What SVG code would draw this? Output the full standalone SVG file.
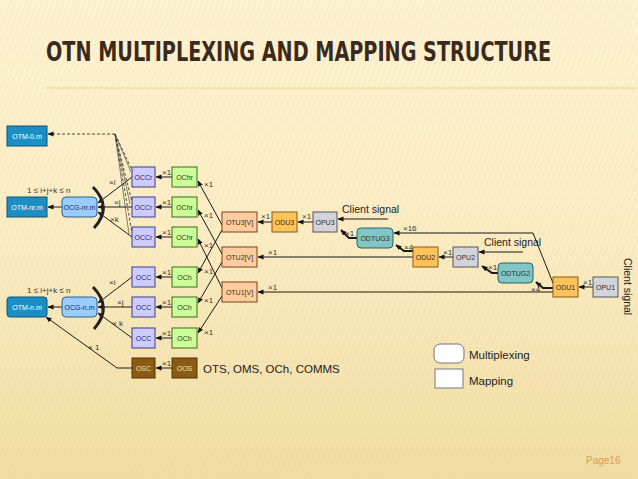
<svg xmlns="http://www.w3.org/2000/svg" width="638" height="479" viewBox="0 0 638 479">
<defs>
<linearGradient id="bg" x1="0" y1="0" x2="0" y2="1">
<stop offset="0" stop-color="#fdf3d3"/>
<stop offset="0.5" stop-color="#fbecc3"/>
<stop offset="1" stop-color="#f1dca2"/>
</linearGradient>
<pattern id="stripes" width="5" height="5" patternUnits="userSpaceOnUse" patternTransform="rotate(20)">
<line x1="0" y1="0" x2="0" y2="5" stroke="#e6cf8f" stroke-width="1.2" opacity="0.35"/>
</pattern>
<marker id="arr" markerUnits="userSpaceOnUse" markerWidth="6" markerHeight="6" refX="5.5" refY="3" orient="auto">
<path d="M0,0.5 L6,3 L0,5.5 z" fill="#111"/>
</marker>
<style>
.t{font-family:"Liberation Sans",Arial,sans-serif;font-size:7px;text-anchor:middle}
.otm{fill:#1b8fc4;stroke:#0c5478}
.otmt{fill:#ffffff}
.ocg{fill:#99ccff;stroke:#2e5f8f}
.occ{fill:#ccccff;stroke:#3a3a8c}
.occt{fill:#2a2a66}
.och{fill:#ccff99;stroke:#3d6b1a}
.ocht{fill:#264010}
.osc{fill:#8c5a14;stroke:#553300}
.osct{fill:#f7e2a0}
.otu{fill:#ffcc9e;stroke:#7a4020}
.odu{fill:#fdc258;stroke:#8a5a10}
.opu{fill:#d3d3da;stroke:#555560}
.odt{fill:#80c6c6;stroke:#2a6060}
.dk{fill:#3a2d1e}
.ln{fill:none;stroke:#1a1a1a;stroke-width:1;marker-end:url(#arr)}
.thk{fill:none;stroke:#1a1a1a;stroke-width:2;marker-end:url(#arr)}
.dsh{fill:none;stroke:#222;stroke-width:0.8;stroke-dasharray:3,2}
.thin{fill:none;stroke:#333;stroke-width:0.6}
.lb{font-family:"Liberation Sans",Arial,sans-serif;font-size:8px;fill:#333}
.big{font-family:"Liberation Sans",Arial,sans-serif;fill:#222}
</style>
</defs>
<rect x="0" y="0" width="638" height="479" fill="url(#bg)"/>
<rect x="0" y="0" width="638" height="479" fill="url(#stripes)"/>
<text transform="translate(46,61) scale(0.82,1)" x="0" y="0" font-family="'DejaVu Sans Condensed','Liberation Sans',sans-serif" font-weight="bold" font-size="27" fill="#3b2a1c" textLength="616" lengthAdjust="spacingAndGlyphs">OTN MULTIPLEXING AND MAPPING STRUCTURE</text>
<line x1="46" y1="88" x2="638" y2="88" stroke="#f0c878" stroke-width="0.8"/>

<g id="connectors">
<path class="dsh" d="M115,134 H48" marker-end="url(#arr)"/>
<path class="dsh" d="M115,134 L132,170"/>
<path class="dsh" d="M115,134 L132,202"/>
<path class="dsh" d="M115,134 L132,233"/>
<path class="thin" d="M115,134 L130,204"/>
<path class="thin" d="M115,134 L129,234"/>
<path class="thin" d="M115,134 L131,172"/>
<path class="ln" d="M62,207 H48"/>
<path class="ln" d="M132,177 L98,203"/>
<path class="ln" d="M132,207 H98"/>
<path class="ln" d="M132,237 L98,212"/>
<path class="ln" d="M172,177 H156"/>
<path class="ln" d="M172,207 H156"/>
<path class="ln" d="M172,237 H156"/>
<path class="ln" d="M62,307 H48"/>
<path class="ln" d="M132,277 L98,303"/>
<path class="ln" d="M132,307 H98"/>
<path class="ln" d="M132,338 L98,313"/>
<path class="ln" d="M172,277 H156"/>
<path class="ln" d="M172,307 H156"/>
<path class="ln" d="M172,338 H156"/>
<path class="ln" d="M172,368 H156"/>
<path class="ln" d="M132,368 H117 L46,317"/>
<path class="ln" d="M222,225 L198,181"/>
<path class="ln" d="M222,230 L198,273"/>
<path class="ln" d="M222,254 L198,210"/>
<path class="ln" d="M222,262 L198,303"/>
<path class="ln" d="M222,288 L198,239"/>
<path class="ln" d="M222,296 L198,333"/>
<path class="ln" d="M272,222 H258"/>
<path class="ln" d="M313,222 H298"/>
<path class="ln" d="M388,219 H338"/>
<path class="thk" d="M357,238 H349 L341,230"/>
<path class="ln" d="M553,283 L533,233 H394"/>
<path class="thk" d="M413,251 H404 L396,245"/>
<path class="ln" d="M413,257 H258"/>
<path class="ln" d="M453,257 H439"/>
<path class="ln" d="M523,252 H479"/>
<path class="thk" d="M498,273 H492 L482,266"/>
<path class="thk" d="M553,288 H543 L536,282"/>
<path class="ln" d="M553,292 H258"/>
<path class="ln" d="M593,287 H579"/>
<path d="M93,187 Q113,207.5 94,228" fill="none" stroke="#222" stroke-width="3"/>
<path d="M93,287 Q113,307.5 94,329" fill="none" stroke="#222" stroke-width="3"/>
</g>

<g id="labels">
<text class="lb" x="27" y="193" font-size="9.5">1 ≤ i+j+k ≤ n</text>
<text class="lb" x="27" y="293" font-size="9.5">1 ≤ i+j+k ≤ n</text>
<text class="lb" x="109" y="185" font-size="7">×i</text>
<text class="lb" x="114" y="205" font-size="7">×j</text>
<text class="lb" x="110" y="222" font-size="7">×k</text>
<text class="lb" x="109" y="285">×i</text>
<text class="lb" x="117" y="305">×j</text>
<text class="lb" x="112" y="326">× k</text>
<text class="lb" x="88" y="350">× 1</text>
<text class="lb" x="162" y="175">×1</text>
<text class="lb" x="162" y="205">×1</text>
<text class="lb" x="162" y="235">×1</text>
<text class="lb" x="162" y="275">×1</text>
<text class="lb" x="162" y="305">×1</text>
<text class="lb" x="162" y="336">×1</text>
<text class="lb" x="162" y="366">×1</text>
<text class="lb" x="204" y="187">×1</text>
<text class="lb" x="204" y="218">×1</text>
<text class="lb" x="204" y="248">×1</text>
<text class="lb" x="204" y="274">×1</text>
<text class="lb" x="204" y="303">×1</text>
<text class="lb" x="204" y="335">×1</text>
<text class="lb" x="261" y="219">×1</text>
<text class="lb" x="302" y="219">×1</text>
<text class="lb" x="268" y="255">×1</text>
<text class="lb" x="268" y="290">×1</text>
<text class="lb" x="345" y="236">×1</text>
<text class="lb" x="403" y="231">×16</text>
<text class="lb" x="404" y="250">×4</text>
<text class="lb" x="443" y="255">×1</text>
<text class="lb" x="488" y="270">×1</text>
<text class="lb" x="531" y="292">×4</text>
<text class="lb" x="583" y="285">×1</text>
<text class="big" x="342" y="213" font-size="10.5">Client signal</text>
<text class="big" x="484" y="246" font-size="10.5">Client signal</text>
<text class="big" x="624" y="258" font-size="10.5" transform="rotate(90 624 258)">Client signal</text>
<text class="big" x="203" y="373" font-size="11.5">OTS, OMS, OCh, COMMS</text>
</g>

<g id="OTM-0m"><rect class="otm" x="7" y="126" width="40" height="20"/><text class="t otmt" x="27" y="138.5">OTM-0.m</text></g>
<g id="OTM-nrm"><rect class="otm" x="7" y="197" width="40" height="20"/><text class="t otmt" x="27" y="209.5">OTM-nr.m</text></g>
<g id="OCG-nrm"><rect class="ocg" x="62" y="197" width="35" height="20" rx="4"/><text class="t" fill="#1a2a50" x="79.5" y="209.5">OCG-nr.m</text></g>
<g id="OTM-nm"><rect class="otm" x="7" y="297" width="40" height="20" rx="3"/><text class="t otmt" x="27" y="309.5">OTM-n.m</text></g>
<g id="OCG-nm"><rect class="ocg" x="62" y="297" width="35" height="20" rx="4"/><text class="t" fill="#1a2a50" x="79.5" y="309.5">OCG-n.m</text></g>

<g id="OCCr1"><rect class="occ" x="132" y="167" width="23" height="20"/><text class="t occt" x="143.5" y="179.5">OCCr</text></g>
<g id="OCCr2"><rect class="occ" x="132" y="197" width="23" height="20"/><text class="t occt" x="143.5" y="209.5">OCCr</text></g>
<g id="OCCr3"><rect class="occ" x="132" y="227" width="23" height="20"/><text class="t occt" x="143.5" y="239.5">OCCr</text></g>
<g id="OChr1"><rect class="och" x="172" y="167" width="25" height="20"/><text class="t ocht" x="184.5" y="179.5">OChr</text></g>
<g id="OChr2"><rect class="och" x="172" y="197" width="25" height="20"/><text class="t ocht" x="184.5" y="209.5">OChr</text></g>
<g id="OChr3"><rect class="och" x="172" y="227" width="25" height="20"/><text class="t ocht" x="184.5" y="239.5">OChr</text></g>
<g id="OCC1"><rect class="occ" x="132" y="267" width="23" height="20"/><text class="t occt" x="143.5" y="279.5">OCC</text></g>
<g id="OCC2"><rect class="occ" x="132" y="297" width="23" height="20"/><text class="t occt" x="143.5" y="309.5">OCC</text></g>
<g id="OCC3"><rect class="occ" x="132" y="328" width="23" height="20"/><text class="t occt" x="143.5" y="340.5">OCC</text></g>
<g id="OCh1"><rect class="och" x="172" y="267" width="25" height="20"/><text class="t ocht" x="184.5" y="279.5">OCh</text></g>
<g id="OCh2"><rect class="och" x="172" y="297" width="25" height="20"/><text class="t ocht" x="184.5" y="309.5">OCh</text></g>
<g id="OCh3"><rect class="och" x="172" y="328" width="25" height="20"/><text class="t ocht" x="184.5" y="340.5">OCh</text></g>
<g id="OSC"><rect class="osc" x="132" y="358" width="23" height="20"/><text class="t osct" x="143.5" y="370.5">OSC</text></g>
<g id="OOS"><rect class="osc" x="172" y="358" width="25" height="20"/><text class="t osct" x="184.5" y="370.5">OOS</text></g>

<g id="OTU3V"><rect class="otu" x="222" y="212" width="35" height="20"/><text class="t dk" x="239.5" y="224.5">OTU3[V]</text></g>
<g id="OTU2V"><rect class="otu" x="222" y="247" width="35" height="20"/><text class="t dk" x="239.5" y="259.5">OTU2[V]</text></g>
<g id="OTU1V"><rect class="otu" x="222" y="282" width="35" height="20"/><text class="t dk" x="239.5" y="294.5">OTU1[V]</text></g>
<g id="ODU3"><rect class="odu" x="272" y="212" width="25" height="20"/><text class="t dk" x="284.5" y="224.5">ODU3</text></g>
<g id="OPU3"><rect class="opu" x="313" y="212" width="24" height="20"/><text class="t dk" x="325" y="224.5">OPU3</text></g>
<g id="ODTUG3"><rect class="odt" x="357" y="228" width="36" height="20" rx="4"/><text class="t dk" x="375" y="240.5">ODTUG3</text></g>
<g id="ODU2"><rect class="odu" x="413" y="247" width="25" height="20"/><text class="t dk" x="425.5" y="259.5">ODU2</text></g>
<g id="OPU2"><rect class="opu" x="453" y="247" width="25" height="20"/><text class="t dk" x="465.5" y="259.5">OPU2</text></g>
<g id="ODTUG2"><rect class="odt" x="498" y="263" width="35" height="20" rx="4"/><text class="t dk" x="515.5" y="275.5">ODTUG2</text></g>
<g id="ODU1"><rect class="odu" x="553" y="277" width="25" height="20"/><text class="t dk" x="565.5" y="289.5">ODU1</text></g>
<g id="OPU1"><rect class="opu" x="593" y="277" width="25" height="20"/><text class="t dk" x="605.5" y="289.5">OPU1</text></g>

<g id="legend">
<rect x="434" y="344" width="30" height="19" rx="6" fill="#ffffff" stroke="#777"/>
<text class="big" x="469" y="359" font-size="11.5">Multiplexing</text>
<rect x="435" y="369" width="28" height="19" fill="#ffffff" stroke="#777"/>
<text class="big" x="469" y="385" font-size="11.5">Mapping</text>
</g>
<text x="586" y="464" font-family="'Liberation Sans',Arial,sans-serif" font-size="10" fill="#d9a050">Page16</text>
</svg>
